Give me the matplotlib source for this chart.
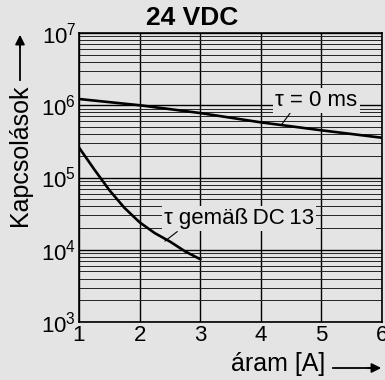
import numpy as np
import matplotlib.pyplot as plt
from matplotlib.ticker import LogLocator, NullFormatter

# görbék adatai (leolvasva)
aram_0ms = [1, 2, 3, 4, 5, 6]
kapcs_0ms = [1.22e6, 1.0e6, 7.8e5, 5.8e5, 4.5e5, 3.55e5]

aram_dc13 = [1.0, 1.25, 1.5, 1.75, 2.0, 2.25, 2.5, 2.75, 3.0]
kapcs_dc13 = [2.6e5, 1.3e5, 6.7e4, 3.8e4, 2.4e4, 1.7e4, 1.3e4, 9.5e3, 7.4e3]

x_ticks = [1, 2, 3, 4, 5, 6]

bg = '#e3e4e3'
plt.rcParams['font.family'] = ['Liberation Sans', 'DejaVu Sans']
plt.rcParams['mathtext.fontset'] = 'custom'
plt.rcParams['mathtext.rm'] = 'Liberation Sans'

fig = plt.figure(figsize=(3.85, 3.80), dpi=100, facecolor=bg)
ax = fig.add_axes([79/385, 1-322/380, 303/385, 289/380])
ax.set_facecolor(bg)

ax.set_yscale('log')
ax.set_xlim(1, 6)
ax.set_ylim(1e3, 1e7)
ax.set_xticks(x_ticks)
ax.yaxis.set_major_locator(LogLocator(base=10, numticks=10))
ax.yaxis.set_minor_locator(LogLocator(base=10, subs=np.arange(2, 10), numticks=10))
ax.yaxis.set_minor_formatter(NullFormatter())
ax.tick_params(which='both', length=0, labelsize=16, pad=2)

ax.grid(True, which='major', color='black', lw=1.0)
ax.grid(True, which='minor', axis='y', color='#222222', lw=0.7)
for s in ax.spines.values():
    s.set_color('black')
    s.set_linewidth(1.2)

ax.plot(aram_0ms, kapcs_0ms, color='black', lw=1.9, zorder=3)
ax.plot(aram_dc13, kapcs_dc13, color='black', lw=1.9, zorder=3)

ax.text(4.92, 1.18e6, 'τ = 0 ms', fontsize=16, ha='center', va='center', zorder=4,
        bbox=dict(facecolor=bg, edgecolor='none', pad=1.5))
ax.plot([4.35, 4.48], [5.5e5, 7.7e5], color='black', lw=0.8, zorder=3)
ax.text(3.64, 2.75e4, 'τ gemäß\u2009DC\u200913', fontsize=16, ha='center', va='center', zorder=4,
        bbox=dict(facecolor=bg, edgecolor='none', pad=1.5))
ax.plot([2.42, 2.62], [1.32e4, 1.78e4], color='black', lw=0.8, zorder=3)

fig.text(192/385, 1-18/380, '24 VDC', fontsize=19, fontweight='bold', ha='center', va='center')

# tengelyfeliratok nyíllal
fig.text(20/385, 1-155/380, 'Kapcsolások', fontsize=18, rotation=90, ha='center', va='center')
fig.add_artist(plt.Line2D([20/385, 20/385], [1-80/380, 1-45/380], color='black', lw=1.3))
ax.annotate('', xy=(20/385, 1-32/380), xytext=(20/385, 1-50/380), xycoords='figure fraction',
            arrowprops=dict(arrowstyle='-|>', color='black', lw=1.3, mutation_scale=14))
fig.text(278/385, 1-364/380, 'áram [A]', fontsize=18, ha='center', va='center')
fig.add_artist(plt.Line2D([333/385, 370/385], [1-368/380, 1-368/380], color='black', lw=1.3))
ax.annotate('', xy=(384/385, 1-368/380), xytext=(365/385, 1-368/380), xycoords='figure fraction',
            arrowprops=dict(arrowstyle='-|>', color='black', lw=1.3, mutation_scale=14))

fig.savefig('out.png', dpi=100, facecolor=bg)
